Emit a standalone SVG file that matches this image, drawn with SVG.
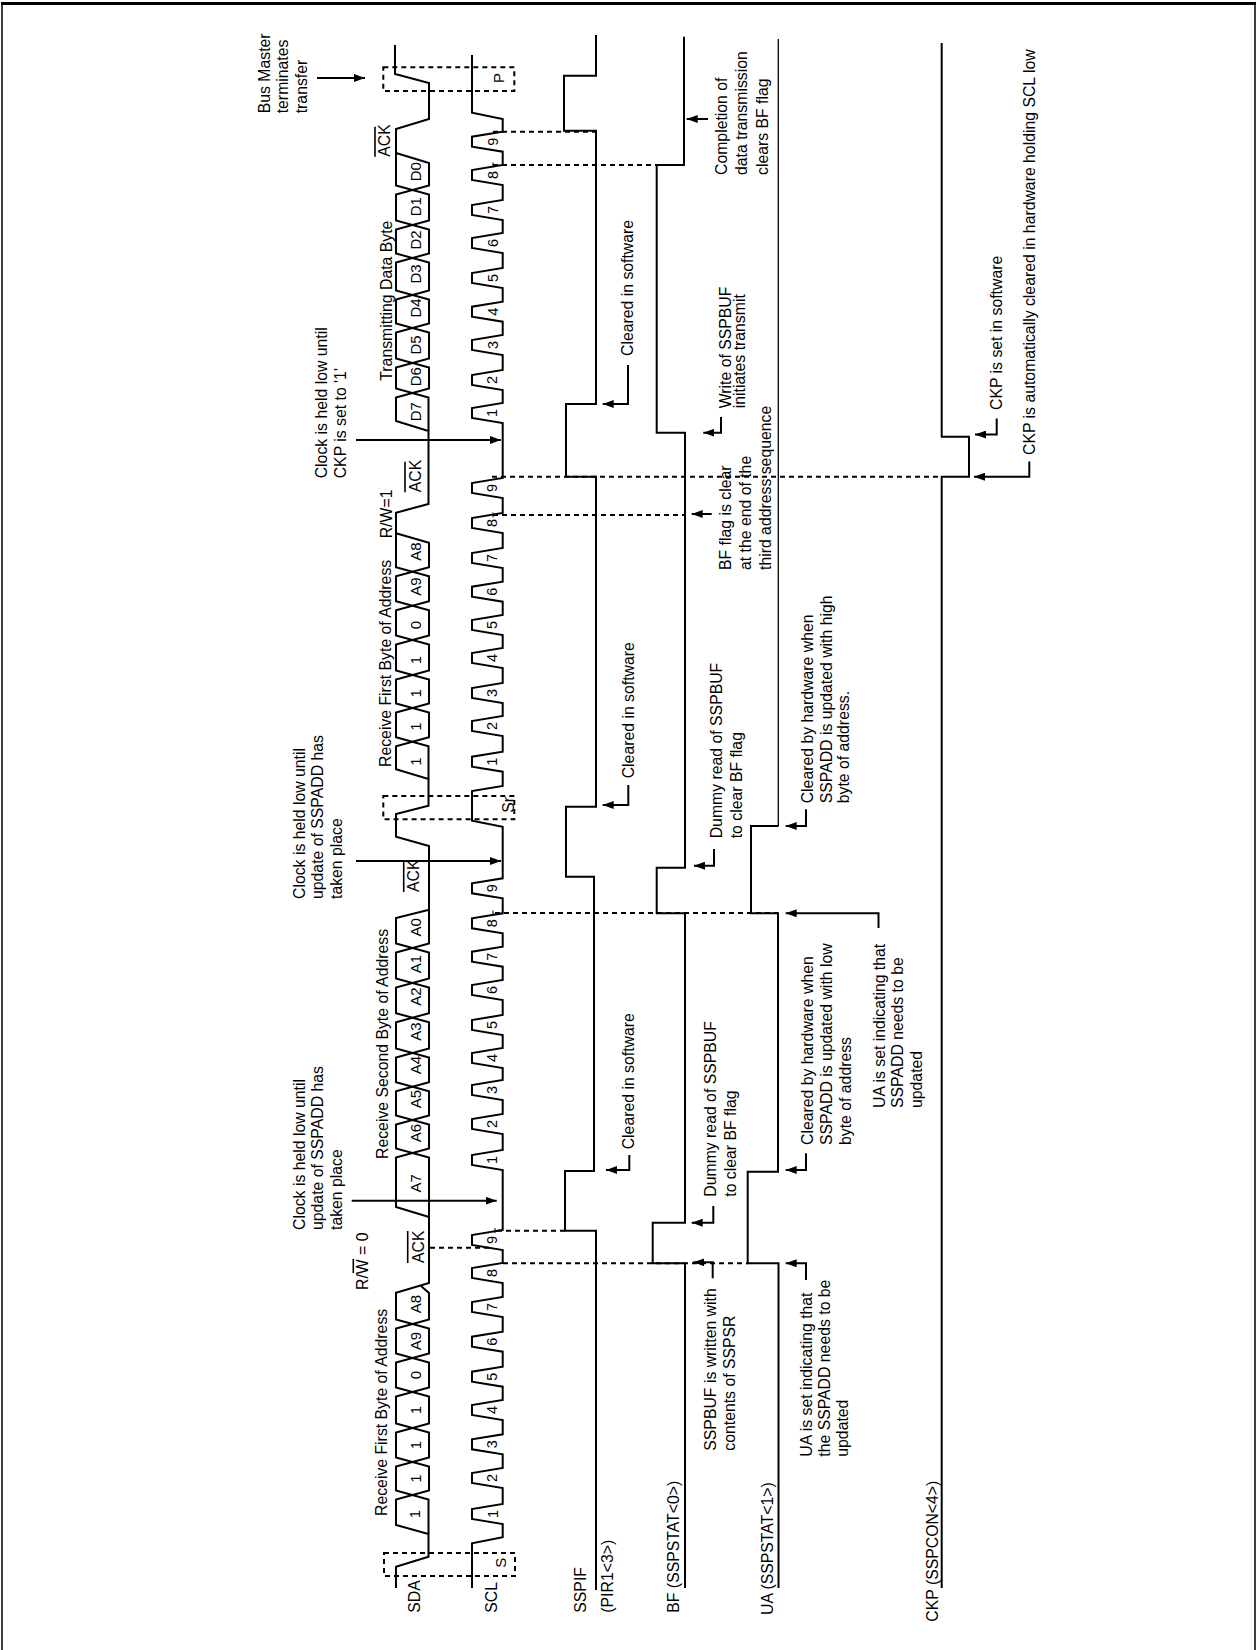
<svg xmlns="http://www.w3.org/2000/svg" width="1257" height="1650" viewBox="0 0 1257 1650">
<style>
text{font-family:"Liberation Sans",Arial,sans-serif;font-size:15.8px;fill:#000}
.b{font-size:15px;text-anchor:middle}
.d{font-size:14.5px;text-anchor:middle}
.s{fill:none;stroke:#000;stroke-width:2}
.o{fill:none;stroke:#000;stroke-width:1.6}
.dash{fill:none;stroke:#000;stroke-width:2;stroke-dasharray:5 4}
.arrow{fill:none;stroke:#000;stroke-width:2;marker-end:url(#arr)}
</style>
<defs>
<marker id="arr" markerUnits="userSpaceOnUse" markerWidth="12" markerHeight="8" refX="11" refY="4" orient="auto"><path d="M0 0L11 4L0 8z" fill="#000"/></marker>
</defs>
<rect width="1257" height="1650" fill="#fff"/>
<path id="frame" d="M2 1650V3.5H1255V1650" fill="none" stroke="#000" stroke-width="1.5"/>
<path d="M1 3.5H1256" fill="none" stroke="#000" stroke-width="3"/>

<g id="SDA">
<path class="s" d="M396 1588V1566.7L428.5 1556.7V1534L396 1525V1499.5L429 1490.5V1466.5L396 1457.5V1432.5L429 1423.5V1396.5L396 1387.5V1362.5L429 1353.5V1328.5L396 1319.5V1292.7L429 1283V1157.5L396 1148.5V1124.5L429 1115.5V1091.2L396 1082.2V1057.5L429 1048.5V1022.2L396 1013.2V987.5L429 978.5V952.5L396 943.5V918L428 910"/>
<path class="s" d="M428.5 1534V1499.5L396 1490.5V1466.5L429 1457.5V1432.5L396 1423.5V1396.5L429 1387.5V1362.5L396 1353.5V1328.5L429 1319.5V1293L421 1286"/>
<path class="s" d="M429 1217L396 1207V1157.5L429 1148.5V1124.5L396 1115.5V1091.2L429 1082.2V1057.5L396 1048.5V1022.2L429 1013.2V987.5L396 978.5V952.5L429 943.5V846L396 836.7V814L428.5 805.7V779L396 769.3V746.2L429 737.2V712.5L396 703.5V679.5L429 670.5V644.5L396 635.5V610.2L429 601.2V576.2L396 567.2V512.7L428.5 504V431L396 421V397.5L429 388.5V367.5L396 358.5V332.5L429 323.5V299.5L396 290.5V262.5L429 253.5V229.5L396 220.5V194.5L429 185.5V163L396 153"/>
<path class="s" d="M428.5 779V746.2L396 737.2V712.5L429 703.5V679.5L396 670.5V644.5L429 635.5V610.2L396 601.2V576.2L429 567.2V542.7L396 533.3"/>
<path class="s" d="M428.5 431V397.5L396 388.5V367.5L429 358.5V332.5L396 323.5V299.5L429 290.5V262.5L396 253.5V229.5L429 220.5V194.5L396 185.5V129L429 119V83L395 74V45"/>
<text transform="translate(419.6 1612.7) rotate(-90)">SDA</text>
<g>
<text class="b" transform="translate(420 1514) rotate(-90)">1</text>
<text class="b" transform="translate(420.7 1478.7) rotate(-90)">1</text>
<text class="b" transform="translate(420.7 1445) rotate(-90)">1</text>
<text class="b" transform="translate(420.7 1410) rotate(-90)">1</text>
<text class="b" transform="translate(420.7 1375) rotate(-90)">0</text>
<text class="b" transform="translate(420.7 1341) rotate(-90)">A9</text>
<text class="b" transform="translate(420.7 1304) rotate(-90)">A8</text>
<text class="b" transform="translate(420.7 1183.3) rotate(-90)">A7</text>
<text class="b" transform="translate(420.7 1133) rotate(-90)">A6</text>
<text class="b" transform="translate(420.7 1099) rotate(-90)">A5</text>
<text class="b" transform="translate(420.7 1065) rotate(-90)">A4</text>
<text class="b" transform="translate(420.7 1031.7) rotate(-90)">A3</text>
<text class="b" transform="translate(420.7 996.7) rotate(-90)">A2</text>
<text class="b" transform="translate(420.7 964) rotate(-90)">A1</text>
<text class="b" transform="translate(420.7 927.3) rotate(-90)">A0</text>
<text class="b" transform="translate(420.7 761.7) rotate(-90)">1</text>
<text class="b" transform="translate(420.7 726.7) rotate(-90)">1</text>
<text class="b" transform="translate(420.7 693.3) rotate(-90)">1</text>
<text class="b" transform="translate(420.7 660) rotate(-90)">1</text>
<text class="b" transform="translate(420.7 625) rotate(-90)">0</text>
<text class="b" transform="translate(420.7 586.7) rotate(-90)">A9</text>
<text class="b" transform="translate(420.7 551.7) rotate(-90)">A8</text>
<text class="b" transform="translate(420.7 411.7) rotate(-90)">D7</text>
<text class="b" transform="translate(420.7 376.7) rotate(-90)">D6</text>
<text class="b" transform="translate(420.7 345) rotate(-90)">D5</text>
<text class="b" transform="translate(420.7 308) rotate(-90)">D4</text>
<text class="b" transform="translate(420.7 274) rotate(-90)">D3</text>
<text class="b" transform="translate(420.7 240) rotate(-90)">D2</text>
<text class="b" transform="translate(420.7 206.7) rotate(-90)">D1</text>
<text class="b" transform="translate(420.7 171.7) rotate(-90)">D0</text>
</g>
</g>

<g id="SCL">
<path class="s" d="M472 1588V1543.3L502.7 1537.3V1524L472 1519V1509L502.7 1504V1488L472 1483V1473L502.7 1468V1454.3L472 1449.3V1439.3L502.7 1434.3V1420L472 1415V1405L502.7 1400V1386.7L472 1381.7V1371.7L502.7 1366.7V1351.7L472 1346.7V1336.7L502.7 1331.7V1317L472 1312V1302L502.7 1297V1283L472 1278V1268L502.7 1263V1250L472 1245V1235L502.7 1230V1170L472 1165V1155L502.7 1150V1134L472 1129V1119L502.7 1114V1100L472 1095V1085L502.7 1080V1068L472 1063V1053L502.7 1048V1035L472 1030V1020L502.7 1015V1000L472 995V985L502.7 980V966.7L472 961.7V951.7L502.7 946.7V933.3L472 928.3V918.3L502.7 913.3V898.3L472 893.3V883.3L502.7 878.3V826.7L472 820.7V791L502.7 786V771.7L472 766.7V756.7L502.7 751.7V736L472 731V721L502.7 716V703L472 698V688L502.7 683V668L472 663V653L502.7 648V635L472 630V620L502.7 615V601.7L472 596.7V586.7L502.7 581.7V568L472 563V553L502.7 548V533L472 528V518L502.7 513V498L472 493V483L502.7 478V423L472 418V408L502.7 403V390L472 385V375L502.7 370V355L472 350V340L502.7 335V321.7L472 316.7V306.7L502.7 301.7V288L472 283V273L502.7 268V253L472 248V238L502.7 233V220L472 215V205L502.7 200V185L472 180V170L502.7 165V151.7L472 146.7V136.7L502.7 131.7V119L472 112.7V55"/>
<text transform="translate(496.5 1612.7) rotate(-90)">SCL</text>
<g>
<text class="d" transform="translate(498 1514) rotate(-90)">1</text>
<text class="d" transform="translate(497 1478) rotate(-90)">2</text>
<text class="d" transform="translate(497 1444.3) rotate(-90)">3</text>
<text class="d" transform="translate(497 1410) rotate(-90)">4</text>
<text class="d" transform="translate(497 1376.7) rotate(-90)">5</text>
<text class="d" transform="translate(497 1341.7) rotate(-90)">6</text>
<text class="d" transform="translate(497 1307) rotate(-90)">7</text>
<text class="d" transform="translate(497 1273) rotate(-90)">8</text>
<text class="d" transform="translate(497 1240) rotate(-90)">9</text>
<text class="d" transform="translate(497 1160) rotate(-90)">1</text>
<text class="d" transform="translate(497 1124) rotate(-90)">2</text>
<text class="d" transform="translate(497 1090) rotate(-90)">3</text>
<text class="d" transform="translate(497 1058) rotate(-90)">4</text>
<text class="d" transform="translate(497 1025) rotate(-90)">5</text>
<text class="d" transform="translate(497 990) rotate(-90)">6</text>
<text class="d" transform="translate(497 956.7) rotate(-90)">7</text>
<text class="d" transform="translate(497 923.3) rotate(-90)">8</text>
<text class="d" transform="translate(497 888.3) rotate(-90)">9</text>
<text class="d" transform="translate(497 761.7) rotate(-90)">1</text>
<text class="d" transform="translate(497 726) rotate(-90)">2</text>
<text class="d" transform="translate(497 693) rotate(-90)">3</text>
<text class="d" transform="translate(497 658) rotate(-90)">4</text>
<text class="d" transform="translate(497 625) rotate(-90)">5</text>
<text class="d" transform="translate(497 591.7) rotate(-90)">6</text>
<text class="d" transform="translate(497 558) rotate(-90)">7</text>
<text class="d" transform="translate(497 523) rotate(-90)">8</text>
<text class="d" transform="translate(497 488) rotate(-90)">9</text>
<text class="d" transform="translate(497 413) rotate(-90)">1</text>
<text class="d" transform="translate(497 380) rotate(-90)">2</text>
<text class="d" transform="translate(498 345) rotate(-90)">3</text>
<text class="d" transform="translate(498 311.7) rotate(-90)">4</text>
<text class="d" transform="translate(498 278) rotate(-90)">5</text>
<text class="d" transform="translate(498 243) rotate(-90)">6</text>
<text class="d" transform="translate(498 210) rotate(-90)">7</text>
<text class="d" transform="translate(498 175) rotate(-90)">8</text>
<text class="d" transform="translate(498 141.7) rotate(-90)">9</text>
</g>
</g>

<g id="SSPIF">
<path class="s" d="M596 1590V1230.7H565V1171H594V876.7H566V806.7H596V476.7H566V404H596V130.7H564V75.7H596V35"/>
<text transform="translate(586 1612.7) rotate(-90)">SSPIF</text>
<text transform="translate(613 1612.7) rotate(-90)">(PIR1&lt;3&gt;)</text>
</g>
<g id="BF">
<path class="s" d="M685 1588V1263.3H652.7V1222.7H685V913.3H656.7V867.7H685V432.7H656.7V165H684V36.7"/>
<text transform="translate(679 1612.7) rotate(-90)">BF (SSPSTAT&lt;0&gt;)</text>
</g>
<g id="UA">
<path class="s" d="M778.5 1588V1263.3H747.7V1171.7H778V913.3H751V826H778.5"/>
<path d="M778.3 826V39" fill="none" stroke="#000" stroke-width="1.3"/>
<text transform="translate(772.7 1615) rotate(-90)">UA (SSPSTAT&lt;1&gt;)</text>
</g>
<g id="CKP">
<path class="s" d="M941.7 1588V476.7H969V436.7H941.7V43"/>
<text transform="translate(938 1621.7) rotate(-90)">CKP (SSPCON&lt;4&gt;)</text>
</g>

<g id="connectors">
<path class="dash" d="M430 1247.7H490M497 1230.7H565M503 1263.3H748M495 912.9H778M492 476.7H940M493 515H685M493 131.7H596M493 165H684M384 1553H515V1576H384ZM383.3 796H514.3V819.3H383.3ZM383.3 67.3H514.3V91H383.3Z"/>
<path d="M495 1228V1233M493 910.5V915.5M493 512.5V517.5M493 162.5V167.5" fill="none" stroke="#000" stroke-width="1"/>
<path class="arrow" d="M317 78H365"/>
<path class="arrow" d="M351.7 1200.7H496.7"/>
<path class="arrow" d="M356 861H501"/>
<path class="arrow" d="M356 440H501"/>
<path class="arrow" d="M629.3 1155V1170H606"/>
<path class="arrow" d="M628.3 785V805H602.7"/>
<path class="arrow" d="M628 365V404H602.7"/>
<path class="arrow" d="M713.3 1206V1222.7H691.7"/>
<path class="arrow" d="M714 849V865.7H694"/>
<path class="arrow" d="M721 417V432.7H703.3"/>
<path class="arrow" d="M711.7 514H691.7"/>
<path class="arrow" d="M708 119H686.7"/>
<path class="arrow" d="M712.7 1278.3V1262.3H693.3"/>
<path class="arrow" d="M806 1280V1263.3H785.7"/>
<path class="arrow" d="M806 1153.3V1170H785.7"/>
<path class="arrow" d="M878.5 928V913.3H785.7"/>
<path class="arrow" d="M806 809.3V826H785.7"/>
<path class="arrow" d="M996.7 418.6V434.6H975"/>
<path class="arrow" d="M1029.3 461.4V476.7H974"/>
</g>

<g id="labels">
<text transform="translate(386.7 1516) rotate(-90)">Receive First Byte of Address</text>
<text transform="translate(368.3 1290) rotate(-90)">R/W = 0</text>
<path class="o" d="M353.3 1273V1259"/>
<text transform="translate(424 1263) rotate(-90)">ACK</text>
<path class="o" d="M407.7 1263V1231"/>
<text transform="translate(305 1230) rotate(-90)">Clock is held low until</text>
<text transform="translate(323.4 1230) rotate(-90)">update of SSPADD has</text>
<text transform="translate(341.7 1230) rotate(-90)">taken place</text>
<text transform="translate(388.3 1159) rotate(-90)">Receive Second Byte of Address</text>
<text transform="translate(419.3 892) rotate(-90)">ACK</text>
<path class="o" d="M403.7 892V861"/>
<text transform="translate(514 812.7) rotate(-90)">Sr</text>
<text transform="translate(305 899) rotate(-90)">Clock is held low until</text>
<text transform="translate(323.4 899) rotate(-90)">update of SSPADD has</text>
<text transform="translate(341.7 899) rotate(-90)">taken place</text>
<text transform="translate(391 767) rotate(-90)">Receive First Byte of Address</text>
<text transform="translate(391.7 538.3) rotate(-90)">R/W=1</text>
<text transform="translate(420.7 492.3) rotate(-90)">ACK</text>
<path class="o" d="M405 492.3V461.7"/>
<text transform="translate(327.4 478.3) rotate(-90)">Clock is held low until</text>
<text transform="translate(345.7 478.3) rotate(-90)">CKP is set to '1'</text>
<text transform="translate(391.7 380.7) rotate(-90)">Transmitting Data Byte</text>
<text transform="translate(390 156.7) rotate(-90)">ACK</text>
<path class="o" d="M375 156.7V126.7"/>
<text transform="translate(270 113.3) rotate(-90)">Bus Master</text>
<text transform="translate(288.3 113.3) rotate(-90)">terminates</text>
<text transform="translate(306.7 113.3) rotate(-90)">transfer</text>
<text class="b" transform="translate(505.5 1562.7) rotate(-90)">S</text>
<text class="b" transform="translate(503.5 78) rotate(-90)">P</text>
<text transform="translate(634 1149.3) rotate(-90)">Cleared in software</text>
<text transform="translate(634 778.3) rotate(-90)">Cleared in software</text>
<text transform="translate(632.7 356) rotate(-90)">Cleared in software</text>
<text transform="translate(716 1196.7) rotate(-90)">Dummy read of SSPBUF</text>
<text transform="translate(735.7 1196.7) rotate(-90)">to clear BF flag</text>
<text transform="translate(721.7 838.3) rotate(-90)">Dummy read of SSPBUF</text>
<text transform="translate(741.7 838.3) rotate(-90)">to clear BF flag</text>
<text transform="translate(730.5 408.3) rotate(-90)">Write of SSPBUF</text>
<text transform="translate(745 408.3) rotate(-90)">initiates transmit</text>
<text transform="translate(730.7 570) rotate(-90)">BF flag is clear</text>
<text transform="translate(751 570) rotate(-90)">at the end of the</text>
<text transform="translate(770.7 570) rotate(-90)">third address sequence</text>
<text transform="translate(727.3 175) rotate(-90)">Completion of</text>
<text transform="translate(747.3 175) rotate(-90)">data transmission</text>
<text transform="translate(768.3 175) rotate(-90)">clears BF flag</text>
<text transform="translate(716 1450.7) rotate(-90)">SSPBUF is written with</text>
<text transform="translate(735 1450.7) rotate(-90)">contents of SSPSR</text>
<text transform="translate(811.7 1456.7) rotate(-90)">UA is set indicating that</text>
<text transform="translate(830 1456.7) rotate(-90)">the SSPADD needs to be</text>
<text transform="translate(848.3 1456.7) rotate(-90)">updated</text>
<text transform="translate(812.7 1145) rotate(-90)">Cleared by hardware when</text>
<text transform="translate(831.7 1145) rotate(-90)">SSPADD is updated with low</text>
<text transform="translate(850.7 1145) rotate(-90)">byte of address</text>
<text transform="translate(812.7 803.3) rotate(-90)">Cleared by hardware when</text>
<text transform="translate(831.7 803.3) rotate(-90)">SSPADD is updated with high</text>
<text transform="translate(849.3 803.3) rotate(-90)">byte of address.</text>
<text transform="translate(884.5 1108) rotate(-90)">UA is set indicating that</text>
<text transform="translate(903 1108) rotate(-90)">SSPADD needs to be</text>
<text transform="translate(921.7 1108) rotate(-90)">updated</text>
<text transform="translate(1001.7 410) rotate(-90)">CKP is set in software</text>
<text transform="translate(1035 455) rotate(-90)">CKP is automatically cleared in hardware holding SCL low</text>
</g>
</svg>
